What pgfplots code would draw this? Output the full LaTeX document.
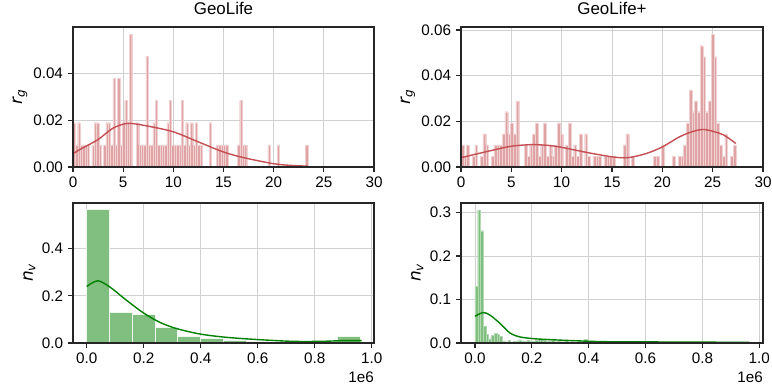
\documentclass[border=0pt]{standalone}
\usepackage{fontspec}
\setmainfont{Liberation Sans}
\newfontfamily\djv{DejaVu Sans}
\usepackage{pgfplots}
\pgfplotsset{compat=1.18}
\definecolor{redline}{HTML}{C44E52}
\definecolor{redbar}{HTML}{DFA2A5}
\definecolor{rededge}{HTML}{F0D2D3}
\definecolor{greenline}{HTML}{008000}
\definecolor{greenbar}{HTML}{80BF80}
\definecolor{greenedge}{HTML}{EEF7EE}
\definecolor{spine}{HTML}{262626}
\definecolor{gridc}{HTML}{D0D0D0}
\newcommand{\lab}[2]{{\djv\itshape #1}\raisebox{-0.3ex}{\djv\itshape\fontsize{12}{12}\selectfont #2}}
\newcommand{\spines}{\draw[spine, line width=1.2bp] (rel axis cs:0,0) rectangle (rel axis cs:1,1);}
\pgfplotsset{
  mybase/.style={
    width=301bp, height=140bp, scale only axis,
    grid=major, grid style={gridc, line width=0.9bp},
    axis line style={spine, line width=1.2bp},
    tick style={spine, line width=1.2bp},
    tick align=outside, major tick length=5bp,
    xtick pos=bottom, ytick pos=left,
    ticklabel style={font=\fontsize{15.3}{15.3}\selectfont},
    /pgf/number format/assume math mode=true,
    scaled x ticks=false, scaled y ticks=false,
    title style={font=\fontsize{17}{17}\selectfont, at={(axis description cs:0.5,1)}, anchor=base, yshift=6.3bp, inner sep=0pt},
    ylabel style={font=\fontsize{17}{17}\selectfont, at={(axis description cs:-0.176,0.5)}, anchor=center},
    xticklabel style={yshift=-1bp},
    yticklabel style={xshift=-1.5bp},
  },
  mytop/.style={xmin=0, xmax=30, xtick={0,5,...,30},
    yticklabel style={/pgf/number format/.cd, fixed, fixed zerofill, precision=2}},
  mybot/.style={xtick={0,0.2,0.4,0.6,0.8,1.0},
    ylabel style={at={(axis description cs:-0.145,0.5)}},
    xticklabel style={/pgf/number format/.cd, fixed, fixed zerofill, precision=1},
    yticklabel style={/pgf/number format/.cd, fixed, fixed zerofill, precision=1}},
}
\begin{document}
\begin{tikzpicture}
\path[use as bounding box] (0,0) rectangle (772bp,-390bp);
% ---------------- top left
\begin{axis}[mybase, mytop, at={(73bp,-167bp)}, anchor=south west,
  ymin=0, ymax=0.0597, ytick={0,0.02,0.04}, title={GeoLife}, ylabel={\lab{r}{g}}]
\addplot[ybar, bar width=2.348bp, bar shift=0pt, fill=redbar, draw=rededge, line width=0.3bp] coordinates {
(0.117,0.0189)(0.351,0.0094)(0.585,0.0189)(0.819,0.0094)(1.053,0.0094)(1.287,0.0094)(1.521,0.0094)
(1.989,0.0094)(2.223,0.0189)(2.457,0.0189)(2.691,0.0094)(3.159,0.0094)(3.393,0.0189)(3.627,0.0189)
(3.861,0.0094)(4.095,0.0377)(4.329,0.0094)(4.563,0.0377)(4.797,0.0094)(5.031,0.0189)(5.265,0.0283)
(5.499,0.0189)(5.733,0.0566)(6.435,0.0189)(6.669,0.0094)(6.903,0.0094)(7.137,0.0094)(7.371,0.0472)
(7.605,0.0094)(7.839,0.0094)(8.073,0.0189)(8.307,0.0283)(8.541,0.0094)(8.775,0.0094)(9.009,0.0094)
(9.243,0.0094)(9.477,0.0189)(9.711,0.0283)(9.945,0.0094)(10.179,0.0094)(10.413,0.0094)(10.647,0.0094)
(10.881,0.0283)(11.115,0.0094)(11.349,0.0189)(11.583,0.0094)(11.817,0.0189)(12.051,0.0094)(12.285,0.0189)
(12.519,0.0094)(12.753,0.0094)(13.689,0.0189)(14.391,0.0094)(14.625,0.0094)(14.859,0.0094)(15.093,0.0094)
(15.327,0.0094)(16.497,0.0094)(16.731,0.0283)(16.965,0.0094)(17.199,0.0094)(19.539,0.0094)(20.475,0.0094)
(23.283,0.0094)};
\addplot[redline, line width=1.4bp, smooth, no markers] coordinates {
(0,0.0057)(1,0.0082)(2.5,0.0117)(4,0.0166)(5.5,0.0186)(7.5,0.0174)(10,0.0150)(12.5,0.0107)
(15,0.0064)(17,0.0040)(20,0.0014)(22,0.0006)(23.4,0.0004)};
\spines
\end{axis}
% ---------------- top right
\begin{axis}[mybase, mytop, at={(461bp,-167bp)}, anchor=south west, width=302bp,
  ymin=0, ymax=0.0613, ytick={0,0.02,0.04,0.06}, title={GeoLife+}, ylabel={\lab{r}{g}}]
\addplot[ybar, bar width=2.748bp, bar shift=0pt, fill=redbar, draw=rededge, line width=0.3bp] coordinates {
(0.137,0.0097)(0.410,0.0048)(0.683,0.0097)(1.229,0.0048)(1.502,0.0097)(2.048,0.0048)(2.321,0.0145)
(2.594,0.0097)(3.140,0.0048)(3.413,0.0097)(3.686,0.0097)(3.959,0.0097)(4.232,0.0145)(4.505,0.0242)
(4.778,0.0145)(5.051,0.0193)(5.324,0.0145)(5.597,0.0290)(6.416,0.0097)(6.689,0.0048)(6.962,0.0097)
(7.235,0.0145)(7.508,0.0193)(7.781,0.0048)(8.054,0.0097)(8.327,0.0193)(8.600,0.0048)(8.873,0.0097)
(9.146,0.0048)(9.419,0.0097)(9.692,0.0193)(9.965,0.0145)(10.511,0.0097)(10.784,0.0193)(11.057,0.0048)
(11.330,0.0097)(11.603,0.0048)(11.876,0.0145)(12.422,0.0145)(12.695,0.0048)(13.241,0.0048)(13.514,0.0048)
(13.787,0.0048)(14.333,0.0048)(14.606,0.0048)(14.879,0.0048)(15.152,0.0048)(16.244,0.0097)(16.517,0.0145)
(17.063,0.0048)(19.247,0.0048)(19.520,0.0048)(20.066,0.0097)(21.158,0.0048)(21.704,0.0048)(21.977,0.0048)
(22.250,0.0097)(22.523,0.0193)(22.796,0.0338)(23.069,0.0242)(23.342,0.0290)(23.615,0.0242)(23.888,0.0531)
(24.161,0.0483)(24.434,0.0242)(24.707,0.0290)(24.980,0.0580)(25.253,0.0483)(25.526,0.0193)(25.799,0.0097)
(26.072,0.0048)(26.345,0.0145)(26.891,0.0048)(27.164,0.0097)};
\addplot[redline, line width=1.4bp, smooth, no markers] coordinates {
(0,0.0041)(2.8,0.0070)(5,0.0091)(7.1,0.0098)(8.8,0.0094)(10,0.0086)(12.7,0.0062)(15.1,0.0044)
(16.6,0.0041)(18.4,0.0059)(20,0.0088)(21.7,0.0132)(23,0.0155)(24.2,0.0164)(26,0.0142)(27.3,0.0103)};
\spines
\end{axis}
% ---------------- bottom left
\begin{axis}[mybase, mybot, name=bl, at={(73bp,-343bp)}, anchor=south west,
  xmin=-0.048, xmax=1.008, ymin=0, ymax=0.594, ytick={0,0.2,0.4}, ylabel={\lab{n}{v}}]
\addplot[ybar, bar width=22.8bp, bar shift=0pt, fill=greenbar, draw=greenedge, line width=0.8bp] coordinates {
(0.04,0.566)(0.12,0.130)(0.20,0.120)(0.28,0.065)(0.36,0.028)(0.44,0.018)(0.52,0.011)(0.60,0.007)
(0.68,0.004)(0.76,0.002)(0.92,0.027)};
\addplot[greenline, line width=1.4bp, smooth, no markers] coordinates {
(0,0.240)(0.039,0.264)(0.082,0.237)(0.14,0.181)(0.2,0.127)(0.257,0.0875)(0.316,0.061)(0.398,0.038)
(0.491,0.024)(0.608,0.014)(0.725,0.007)(0.82,0.007)(0.9,0.010)(0.965,0.010)};
\spines
\end{axis}
\node[anchor=north east, inner sep=0pt, font=\fontsize{15.3}{15.3}\selectfont] at ([yshift=-29bp]bl.south east) {1e6};
% ---------------- bottom right
\begin{axis}[mybase, mybot, name=br, at={(461bp,-343bp)}, anchor=south west, width=302bp,
  xmin=-0.0492, xmax=1.013, ymin=0, ymax=0.3217, ytick={0,0.1,0.2,0.3}, ylabel={\lab{n}{v}}]
\addplot[ybar, bar width=2.73bp, bar shift=0pt, fill=greenbar, draw=greenbar!60!white, line width=0.3bp] coordinates {
(0.0048,0.130)(0.0144,0.306)(0.0240,0.258)(0.0336,0.038)(0.0432,0.020)(0.0528,0.010)(0.0624,0.017)
(0.0720,0.022)(0.0816,0.020)(0.0912,0.015)(0.1008,0.005)(0.1104,0.002)(0.1200,0.006)(0.1296,0.002)
(0.1392,0.004)(0.1488,0.005)(0.1584,0.007)(0.1680,0.005)(0.1776,0.004)(0.1872,0.006)(0.1968,0.005)
(0.2064,0.004)(0.2160,0.006)(0.2256,0.009)(0.2352,0.008)(0.2448,0.006)(0.2544,0.004)(0.2640,0.005)
(0.2736,0.006)(0.2832,0.003)(0.2928,0.004)(0.3024,0.003)(0.3120,0.003)(0.3216,0.007)(0.3312,0.002)
(0.3408,0.003)(0.3504,0.002)(0.3600,0.002)(0.3696,0.003)(0.3792,0.003)(0.3888,0.008)(0.3984,0.002)
(0.4080,0.003)(0.4272,0.002)(0.4560,0.002)(0.5040,0.003)(0.5424,0.003)(0.5904,0.003)(0.6288,0.002)
(0.6576,0.003)(0.7248,0.001)(0.8016,0.001)(0.8880,0.002)(0.9552,0.002)};
\addplot[greenline, line width=1.4bp, smooth, no markers] coordinates {
(0,0.0615)(0.029,0.070)(0.053,0.064)(0.088,0.045)(0.123,0.023)(0.158,0.014)(0.205,0.010)(0.264,0.0077)
(0.346,0.0054)(0.463,0.0030)(0.698,0.0023)(0.965,0.0015)};
\spines
\end{axis}
\node[anchor=north east, inner sep=0pt, font=\fontsize{15.3}{15.3}\selectfont] at ([yshift=-29bp]br.south east) {1e6};
\end{tikzpicture}
\end{document}
